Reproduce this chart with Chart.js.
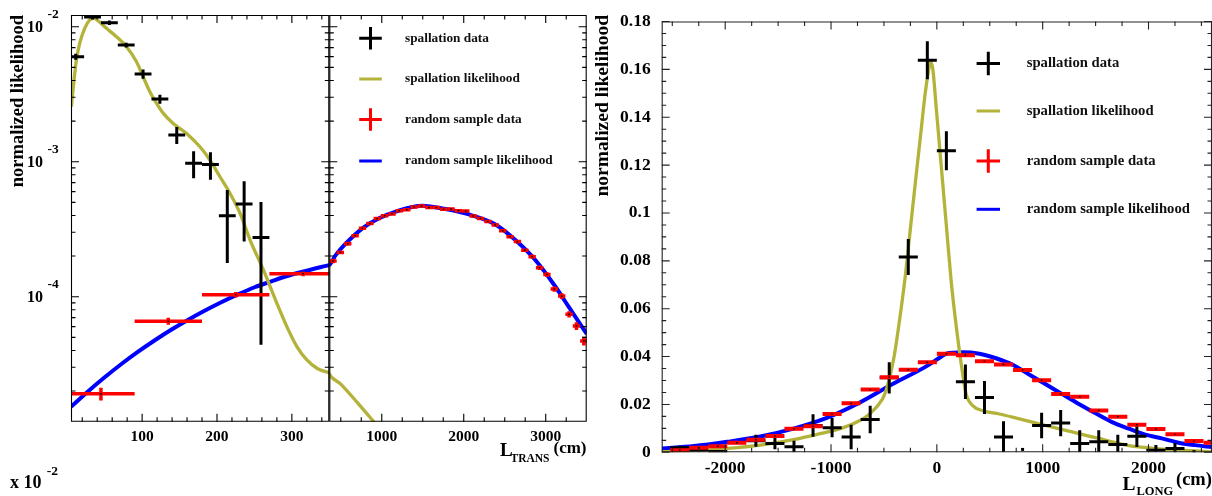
<!DOCTYPE html>
<html><head><meta charset="utf-8">
<script src="https://cdn.jsdelivr.net/npm/chart.js@4.4.1/dist/chart.umd.min.js"></script>
<style>
html,body{margin:0;padding:0;background:#fff;overflow:hidden;}
#wrap{position:relative;width:1212px;height:496px;background:#fff;}
canvas{position:absolute;left:0;top:0;}
</style></head><body>
<div id="wrap">
<canvas id="cA" width="1212" height="496"></canvas>
<canvas id="cB" width="1212" height="496"></canvas>
<canvas id="cC" width="1212" height="496"></canvas>
</div>
<script>
// ---------------- DATA : left panel (L_TRANS, log scale) ----------------
const transSpallX   = [11.25, 33.75, 56.25, 78.75, 101.25, 123.75, 146.25, 168.75, 191.25, 213.75, 236.25, 258.75];
const transSpallY   = [0.0060, 0.0118, 0.0107, 0.00732, 0.00447, 0.00291, 0.00158, 0.000973, 0.000955, 0.000398, 0.000486, 0.000274];
const transSpallErr = [0.0003, 0.0005, 0.0004, 0.0003, 0.00035, 0.00022, 0.00023, 0.00022, 0.00022, 0.00022, 0.00023, 0.00023];
const transSpallBin = 22.5;

const transRandX = [45, 135, 225, 315,
  405, 495, 585, 675, 765, 855, 945, 1035, 1125, 1215, 1305, 1395, 1485, 1575, 1665, 1755, 1845, 1935,
  2025, 2115, 2205, 2295, 2385, 2475, 2565, 2655, 2745, 2835, 2925, 3015, 3105, 3195, 3285, 3375, 3465];
const transRandY = [1.91e-5, 6.58e-5, 1.035e-4, 1.48e-4,
  1.84e-4, 2.13e-4, 2.47e-4, 2.83e-4, 3.21e-4, 3.48e-4, 3.79e-4, 3.98e-4, 4.10e-4, 4.34e-4, 4.41e-4, 4.62e-4,
  4.70e-4, 4.57e-4, 4.57e-4, 4.44e-4, 4.46e-4, 4.34e-4, 4.31e-4, 3.96e-4, 3.79e-4, 3.60e-4, 3.40e-4, 3.08e-4,
  2.78e-4, 2.56e-4, 2.21e-4, 1.98e-4, 1.64e-4, 1.46e-4, 1.14e-4, 1.01e-4, 7.4e-5, 6.07e-5, 4.70e-5];
const transRandErr = [0.21e-5, 0.39e-5, 0.5e-5, 0.6e-5,
  0.07e-4, 0.07e-4, 0.08e-4, 0.08e-4, 0.09e-4, 0.09e-4, 0.1e-4, 0.1e-4, 0.1e-4, 0.1e-4, 0.1e-4, 0.1e-4,
  0.1e-4, 0.1e-4, 0.1e-4, 0.1e-4, 0.1e-4, 0.1e-4, 0.1e-4, 0.1e-4, 0.1e-4, 0.09e-4, 0.09e-4, 0.09e-4,
  0.08e-4, 0.08e-4, 0.07e-4, 0.07e-4, 0.06e-4, 0.06e-4, 0.05e-4, 0.05e-4, 0.04e-4, 0.04e-4, 0.035e-4];
const transRandBin = 90;

const transSpallLikeX = [5.5, 8.6, 12.2, 16.6, 23.3, 30, 35.7, 41.1, 52.3, 65.7, 79.1, 92.5, 101.3, 110.3, 119.3, 128.1,
  141.5, 159.4, 177.2, 190.6, 204, 217.4, 230.8, 244.2, 262, 271, 280, 293.3, 306.7, 320, 333.5, 350, 500, 700, 900, 1100];
const transSpallLikeY = [0.00255, 0.00381, 0.00566, 0.00754, 0.00973, 0.01122, 0.01154, 0.01107, 0.00973, 0.00844, 0.00711,
  0.00551, 0.00427, 0.0033, 0.00271, 0.00229, 0.00192, 0.00162, 0.00129, 0.00103, 0.000774, 0.000583, 0.000415, 0.000263,
  0.000158, 0.000119, 8.93e-5, 6.0e-5, 4.27e-5, 3.4e-5, 2.95e-5, 2.74e-5, 2.25e-5, 1.65e-5, 1.19e-5, 8.4e-6];

const transRandLikeX = [5, 27.3, 49.6, 71.9, 94.2, 116.5, 138.8, 161.1, 183.4, 205.7, 228, 250.3, 272.6, 294.9, 317.2, 339.5, 350,
  360, 440, 562, 764, 967, 1170, 1494, 1778, 2062, 2387, 2630, 2873, 3117, 3279, 3500];
const transRandLikeY = [1.53e-5, 1.98e-5, 2.52e-5, 3.16e-5, 3.90e-5, 4.74e-5, 5.69e-5, 6.73e-5, 7.87e-5, 9.10e-5, 1.04e-4,
  1.175e-4, 1.30e-4, 1.43e-4, 1.545e-4, 1.66e-4, 1.71e-4,
  1.72e-4, 2.04e-4, 2.48e-4, 3.21e-4, 3.81e-4, 4.27e-4, 4.72e-4, 4.46e-4, 4.07e-4, 3.43e-4, 2.63e-4, 1.87e-4, 1.19e-4, 8.43e-5, 5.3e-5];

const transX1Ticks = [100, 200, 300];
const transX2Ticks = [1000, 2000, 3000];
const transYTicks  = [1e-4, 1e-3, 1e-2];
const transYExp    = ['-4', '-3', '-2'];

// ---------------- DATA : right panel (L_LONG, linear) ----------------
const longBinsX = [-2430, -2250, -2070, -1890, -1710, -1530, -1350, -1170, -990, -810, -630, -450, -270, -90,
  90, 270, 450, 630, 810, 990, 1170, 1350, 1530, 1710, 1890, 2070, 2250, 2430];
const longSpallY = [0.0019, 0.0010, 0.0003, null, 0.0048, 0.0037, 0.0023, 0.0112, 0.0103, 0.0064, 0.0137, 0.0311, 0.0816, 0.1638,
  0.1260, 0.0295, 0.0229, 0.0064, 0.0012, 0.0112, 0.0122, 0.0037, 0.0044, 0.0033, 0.0067, 0.0009, 0.0016, 0.0003];
const longSpallErr = [0.0008, 0.0006, 0.0004, 0, 0.0025, 0.0024, 0.0025, 0.0047, 0.0040, 0.0051, 0.0057, 0.0065, 0.0075, 0.0079,
  0.0081, 0.0072, 0.0069, 0.0066, 0, 0.0053, 0.0055, 0.0055, 0.0048, 0.0040, 0.0045, 0.0022, 0.0023, 0];
const longBin = 180;

const longRandX = [-2430, -2250, -2070, -1890, -1710, -1530, -1350, -1170, -990, -810, -630, -450, -270, -90,
  90, 270, 450, 630, 810, 990, 1170, 1350, 1530, 1710, 1890, 2070, 2250, 2430, 2610];
const longRandY = [0.0009, 0.0019, 0.0025, 0.0040, 0.0052, 0.0068, 0.0098, 0.0109, 0.0160, 0.0205, 0.0262, 0.0314, 0.0345, 0.0376,
  0.0412, 0.0406, 0.0380, 0.0367, 0.0344, 0.0301, 0.0244, 0.0232, 0.0175, 0.0149, 0.0115, 0.0097, 0.0075, 0.0047, 0.0040];
const longRandErr = [0.0003, 0.0004, 0.0004, 0.0005, 0.0005, 0.0006, 0.0006, 0.0007, 0.0007, 0.0007, 0.0008, 0.0008, 0.0008, 0.0008,
  0.0008, 0.0008, 0.0008, 0.0008, 0.0008, 0.0008, 0.0007, 0.0007, 0.0007, 0.0006, 0.0006, 0.0006, 0.0005, 0.0004, 0.0004];

const longSpallLikeX = [-2600, -2295, -1981, -1668, -1355, -1103, -884, -727, -650, -600, -550, -500, -450, -400, -350, -300, -250,
  -200, -150, -110, -80, -60, -38, -6, 41, 88, 135, 174, 214, 245, 277, 339, 433, 590, 715, 903, 1029, 1217, 1342, 1531, 1656, 1844,
  1970, 2158, 2283, 2600];
const longSpallLikeY = [0.0002, 0.0007, 0.0016, 0.0030, 0.0053, 0.0078, 0.0103, 0.0133, 0.0155, 0.0175, 0.0200, 0.0235, 0.0305,
  0.0410, 0.0560, 0.0730, 0.0935, 0.1140, 0.1340, 0.1500, 0.1590, 0.1631, 0.1601, 0.1440, 0.1199, 0.0957, 0.0716, 0.0560, 0.0421,
  0.0325, 0.0243, 0.0195, 0.0174, 0.0160, 0.0147, 0.0126, 0.0112, 0.0092, 0.0078, 0.0058, 0.0044, 0.0026, 0.0020, 0.0012, 0.0009, 0.0002];

const longRandLikeX = [-2600, -2295, -1981, -1668, -1355, -1040, -727, -414, -100, 25, 88, 245, 402, 559, 715, 872, 1029, 1185, 1342,
  1500, 1656, 1813, 1970, 2126, 2283, 2440, 2600];
const longRandLikeY = [0.0016, 0.0026, 0.0044, 0.0066, 0.0099, 0.0144, 0.0208, 0.0286, 0.0359, 0.0395, 0.0412, 0.0418, 0.0412, 0.0393,
  0.0366, 0.0325, 0.0284, 0.0243, 0.0202, 0.0163, 0.0126, 0.0099, 0.0074, 0.0058, 0.0040, 0.0030, 0.0022];

const longXTicks = [-2000, -1000, 0, 1000, 2000];
const longYTicks = [0, 0.02, 0.04, 0.06, 0.08, 0.1, 0.12, 0.14, 0.16, 0.18];

const legendLabels = ['spallation data', 'spallation likelihood', 'random sample data', 'random sample likelihood'];

// ---------------- STYLE ----------------
const OLIVE = '#b3b33a', BLUE = '#0000ff', RED = '#ff0000', BLACK = '#000000';
const SERIF = '"Liberation Serif", "Times New Roman", serif';
const W = 1212, H = 496;

function steps(a, b, s) { const r = []; for (let v = a; v <= b + 1e-9; v += s) r.push(+v.toFixed(6)); return r; }
function logMinors(lo, hi) { const r = []; for (let n = -6; n <= 0; n++) for (let k = 2; k <= 9; k++) { const v = k * Math.pow(10, n); if (v >= lo && v <= hi) r.push(v); } return r; }

function lineDS(xs, ys, color, w) {
  return { type: 'line', data: xs.map((x, i) => ({ x, y: ys[i] })), borderColor: color, borderWidth: w,
    pointRadius: 0, fill: false, cubicInterpolationMode: 'monotone' };
}
function crossDS(xs, ys, es, half, color, w, dot) {
  return { type: 'scatter', data: xs.map((x, i) => ({ x, y: ys[i], e: es[i] })), pointRadius: 0, showLine: false,
    cross: { half, color, w, dot } };
}

const crossPlugin = {
  id: 'crosses',
  afterDatasetsDraw(chart) {
    const { ctx, chartArea: a } = chart; const xs = chart.scales.x, ys = chart.scales.y;
    ctx.save();
    ctx.beginPath(); ctx.rect(a.left, a.top, a.right - a.left, a.bottom - a.top); ctx.clip();
    chart.data.datasets.forEach(ds => {
      if (!ds.cross) return;
      const c = ds.cross;
      ds.data.forEach(p => {
        if (p.y == null) return;
        const px = xs.getPixelForValue(p.x), py = ys.getPixelForValue(p.y);
        if (!(p.e > 0)) { ctx.fillStyle = c.color; ctx.fillRect(px - 1.5, py - 1.5, 3, 3); return; }
        const x0 = xs.getPixelForValue(p.x - c.half), x1 = xs.getPixelForValue(p.x + c.half);
        ctx.strokeStyle = c.color; ctx.lineWidth = c.w; ctx.lineCap = 'butt';
        ctx.beginPath(); ctx.moveTo(x0, py); ctx.lineTo(x1, py);
        const lo = Math.max(p.y - p.e, 1e-9);
        ctx.moveTo(px, ys.getPixelForValue(lo)); ctx.lineTo(px, ys.getPixelForValue(p.y + p.e));
        ctx.stroke();
        if (c.dot) { ctx.fillStyle = '#000'; ctx.fillRect(px - 0.75, py - 0.75, 1.5, 1.5); }
      });
    });
    ctx.restore();
  }
};

const axesPlugin = {
  id: 'rootAxes',
  afterDraw(chart, args, o) {
    const { ctx, chartArea: a } = chart; const xs = chart.scales.x, ys = chart.scales.y;
    ctx.save();
    ctx.strokeStyle = o.color || '#000'; ctx.lineWidth = 1.1;
    const L = a.left, R = a.right, T = a.top, B = a.bottom;
    ctx.beginPath(); ctx.rect(L + 0.5, T + 0.5, R - L - 1, B - T - 1); ctx.stroke();
    ctx.beginPath();
    const xt = (list, len) => list.forEach(v => {
      const p = xs.getPixelForValue(v); if (p < L || p > R) return;
      ctx.moveTo(p, B); ctx.lineTo(p, B - len); ctx.moveTo(p, T); ctx.lineTo(p, T + len);
    });
    const yt = (list, len) => list.forEach(v => {
      const p = ys.getPixelForValue(v); if (p < T || p > B) return;
      ctx.moveTo(L, p); ctx.lineTo(L + len, p); ctx.moveTo(R, p); ctx.lineTo(R - len, p);
    });
    xt(o.xMajor, o.majorLen); xt(o.xMinor, o.minorLen);
    yt(o.yMajor, o.majorLen); yt(o.yMinor, o.minorLen);
    ctx.stroke();
    ctx.restore();
  }
};

const textPlugin = {
  id: 'texts',
  afterDraw(chart, args, o) {
    const ctx = chart.ctx;
    (o.items || []).forEach(t => {
      ctx.save();
      ctx.font = t.font; ctx.fillStyle = t.color || '#000';
      ctx.textAlign = t.align || 'left'; ctx.textBaseline = t.baseline || 'alphabetic';
      ctx.translate(t.x, t.y); if (t.rot) ctx.rotate(t.rot);
      ctx.fillText(t.text, 0, 0);
      ctx.restore();
    });
    if (o.log) {
      const ys = chart.scales.y;
      o.log.values.forEach((v, i) => {
        const py = ys.getPixelForValue(v);
        ctx.save(); ctx.fillStyle = '#000';
        ctx.font = 'bold 16px ' + SERIF; ctx.textAlign = 'right'; ctx.textBaseline = 'alphabetic';
        ctx.fillText('10', 43, py + 5.4);
        ctx.font = 'bold 13.5px ' + SERIF; ctx.textAlign = 'left';
        ctx.fillText(o.log.labels[i], 47.5, py - 8.5);
        ctx.restore();
      });
    }
    if (o.legend) {
      const g = o.legend;
      g.items.forEach((it, i) => {
        const y = g.ys[i];
        ctx.save();
        ctx.strokeStyle = it.color; ctx.lineWidth = 3;
        ctx.beginPath();
        ctx.moveTo(g.sx - g.half, y); ctx.lineTo(g.sx + g.half, y);
        if (it.cross) { ctx.moveTo(g.sx, y - g.half); ctx.lineTo(g.sx, y + g.half); }
        ctx.stroke();
        ctx.fillStyle = '#111'; ctx.font = 'bold ' + g.size + 'px ' + SERIF;
        ctx.textAlign = 'left'; ctx.textBaseline = 'middle';
        ctx.fillText(it.text, g.tx, y);
        ctx.restore();
      });
    }
  }
};

const legendItems = [
  { text: legendLabels[0], color: BLACK, cross: true },
  { text: legendLabels[1], color: OLIVE, cross: false },
  { text: legendLabels[2], color: RED, cross: true },
  { text: legendLabels[3], color: BLUE, cross: false }
];

function hideGrid() { return { display: false, drawTicks: false }; }

// ---------------- Chart A : L_TRANS 5..350 ----------------
const transYMin = 1.186e-5, transYMax = 0.012213;
const transDatasets = () => [
  lineDS(transSpallLikeX, transSpallLikeY, OLIVE, 3.3),
  lineDS(transRandLikeX, transRandLikeY, BLUE, 4),
  crossDS(transSpallX, transSpallY, transSpallErr, transSpallBin / 2, BLACK, 3, false),
  crossDS(transRandX, transRandY, transRandErr, transRandBin / 2, RED, 3.5, true)
];

new Chart(document.getElementById('cA'), {
  type: 'line',
  data: { datasets: transDatasets() },
  options: {
    responsive: false, animation: false, events: [],
    layout: { padding: { left: 0, top: 15, right: W - 329.3, bottom: 0 } },
    plugins: {
      legend: { display: false }, tooltip: { enabled: false },
      rootAxes: { xMajor: transX1Ticks, xMinor: steps(20, 340, 20).filter(v => v % 100 !== 0),
        yMajor: transYTicks, yMinor: logMinors(transYMin, transYMax), majorLen: 8, minorLen: 4.5 },
      texts: {
        log: { values: transYTicks, labels: transYExp },
        items: [
          { text: 'normalized likelihood', x: 23.3, y: 15, rot: -Math.PI / 2, align: 'right', font: 'bold 18.5px ' + SERIF },
          { text: 'x 10', x: 10, y: 488.3, font: 'bold 18px ' + SERIF },
          { text: '-2', x: 46.7, y: 475, font: 'bold 13.5px ' + SERIF }
        ]
      }
    },
    scales: {
      x: { type: 'linear', min: 5, max: 350, bounds: 'data', grid: hideGrid(), border: { display: false },
        afterFit: s => { s.height = H - 421.7; },
        afterBuildTicks: s => { s.ticks = transX1Ticks.map(v => ({ value: v })); },
        ticks: { font: { family: SERIF, size: 15.5, weight: 'bold' }, color: '#000', padding: 6, maxRotation: 0, autoSkip: false, callback: v => String(v) } },
      y: { type: 'logarithmic', min: transYMin, max: transYMax, bounds: 'data', grid: hideGrid(), border: { display: false },
        ticks: { display: false }, afterFit: s => { s.width = 71; } }
    }
  },
  plugins: [crossPlugin, axesPlugin, textPlugin]
});

// ---------------- Chart B : L_TRANS 360..3500 ----------------
new Chart(document.getElementById('cB'), {
  type: 'line',
  data: { datasets: transDatasets() },
  options: {
    responsive: false, animation: false, events: [],
    layout: { padding: { left: 329.3, top: 15, right: W - 586.7, bottom: 0 } },
    plugins: {
      legend: { display: false }, tooltip: { enabled: false },
      rootAxes: { xMajor: transX2Ticks, xMinor: steps(500, 3250, 250).filter(v => v % 1000 !== 0),
        yMajor: transYTicks, yMinor: logMinors(transYMin, transYMax), majorLen: 8, minorLen: 4.5 },
      texts: {
        legend: { items: legendItems, sx: 370.5, half: 11.3, tx: 405, size: 13.3, ys: [38.3, 79, 119.5, 161] },
        items: [
          { text: 'L', x: 500, y: 456, font: 'bold 19px ' + SERIF },
          { text: 'TRANS', x: 510.5, y: 461.5, font: 'bold 11.5px ' + SERIF },
          { text: '(cm)', x: 553.5, y: 453, font: 'bold 17px ' + SERIF }
        ]
      }
    },
    scales: {
      x: { type: 'linear', min: 360, max: 3500, bounds: 'data', grid: hideGrid(), border: { display: false },
        afterFit: s => { s.height = H - 421.7; },
        afterBuildTicks: s => { s.ticks = transX2Ticks.map(v => ({ value: v })); },
        ticks: { font: { family: SERIF, size: 15.5, weight: 'bold' }, color: '#000', padding: 6, maxRotation: 0, autoSkip: false, callback: v => String(v) } },
      y: { type: 'logarithmic', display: false, min: transYMin, max: transYMax, bounds: 'data' }
    }
  },
  plugins: [crossPlugin, axesPlugin, textPlugin]
});

// ---------------- Chart C : L_LONG ----------------
new Chart(document.getElementById('cC'), {
  type: 'line',
  data: { datasets: [
    lineDS(longSpallLikeX, longSpallLikeY, OLIVE, 3.3),
    lineDS(longRandLikeX, longRandLikeY, BLUE, 4),
    crossDS(longBinsX, longSpallY, longSpallErr, longBin / 2, BLACK, 3, false),
    crossDS(longRandX, longRandY, longRandErr, longBin / 2, RED, 4, true)
  ] },
  options: {
    responsive: false, animation: false, events: [],
    layout: { padding: { left: 0, top: 15, right: 0, bottom: 0 } },
    plugins: {
      legend: { display: false }, tooltip: { enabled: false },
      rootAxes: { color: '#222', xMajor: longXTicks, xMinor: steps(-2500, 2500, 250).filter(v => v % 1000 !== 0),
        yMajor: longYTicks, yMinor: steps(0.005, 0.175, 0.005).filter(v => Math.abs(v / 0.02 - Math.round(v / 0.02)) > 0.01),
        majorLen: 8, minorLen: 4.5 },
      texts: {
        legend: { items: legendItems, sx: 988.3, half: 11.7, tx: 1026.7, size: 14.7, ys: [63.5, 111, 161, 209.3] },
        items: [
          { text: 'normalized likelihood', x: 608.3, y: 15, rot: -Math.PI / 2, align: 'right', font: 'bold 19.5px ' + SERIF },
          { text: 'L', x: 1122.5, y: 489.5, font: 'bold 19.5px ' + SERIF },
          { text: 'LONG', x: 1136.5, y: 495, font: 'bold 12.5px ' + SERIF },
          { text: '(cm)', x: 1176, y: 485, font: 'bold 18.5px ' + SERIF }
        ]
      }
    },
    scales: {
      x: { type: 'linear', min: -2600, max: 2600, bounds: 'data', grid: hideGrid(), border: { display: false },
        afterFit: s => { s.height = H - 452.3; },
        afterBuildTicks: s => { s.ticks = longXTicks.map(v => ({ value: v })); },
        ticks: { font: { family: SERIF, size: 17.5, weight: 'bold' }, color: '#000', padding: 6, maxRotation: 0, autoSkip: false, callback: v => String(v) } },
      y: { type: 'linear', min: 0, max: 0.18, bounds: 'data', grid: hideGrid(), border: { display: false },
        afterFit: s => { s.width = 661.7; },
        afterBuildTicks: s => { s.ticks = longYTicks.map(v => ({ value: v })); },
        ticks: { font: { family: SERIF, size: 17.5, weight: 'bold' }, color: '#000', padding: 11, autoSkip: false, callback: v => String(+(+v).toFixed(2)) } }
    }
  },
  plugins: [crossPlugin, axesPlugin, textPlugin]
});
</script>
</body></html>
